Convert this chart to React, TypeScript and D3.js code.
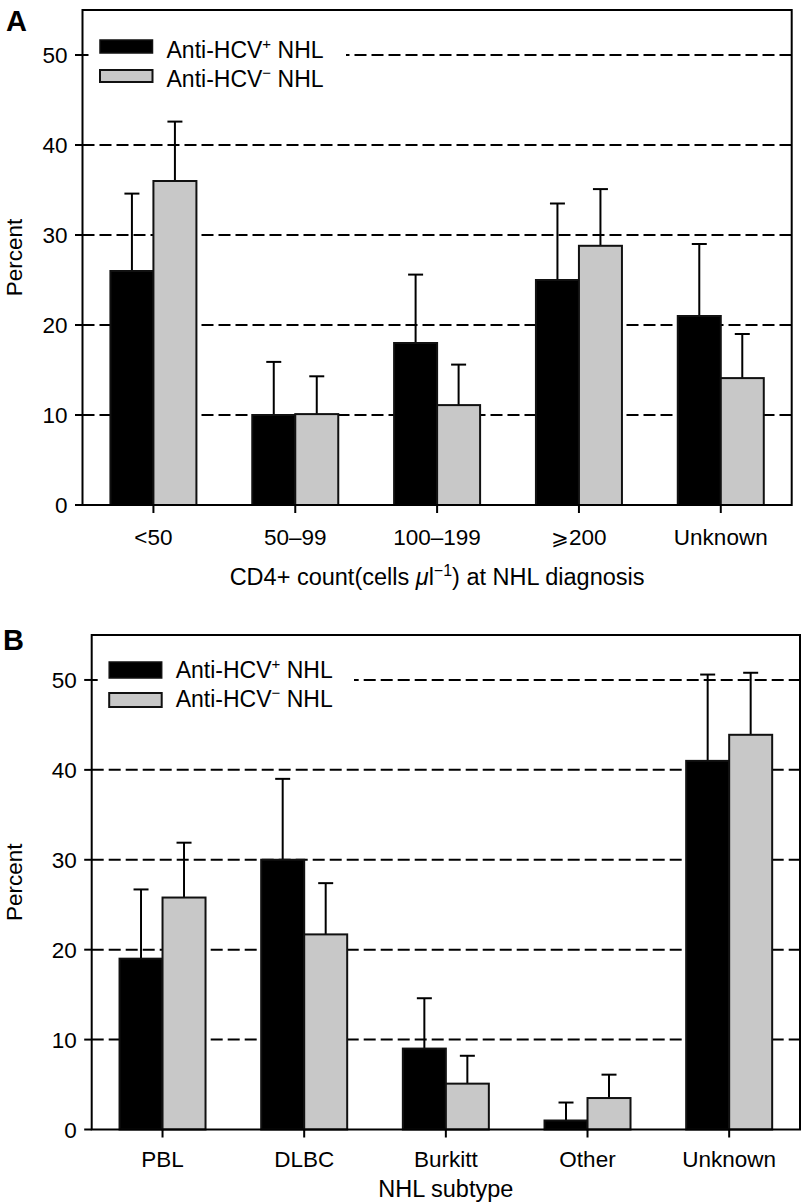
import React from "react";
import * as d3 from "d3";

const seriesKeys = ["pos", "neg"];
const cd4Categories = ["<50", "50–99", "100–199", "⩾200", "Unknown"];
const cd4Pos = [26, 10, 18, 25, 21];
const cd4PosErr = [34.6, 15.9, 25.6, 33.5, 29];
const cd4Neg = [36, 10.1, 11.1, 28.8, 14.1];
const cd4NegErr = [42.6, 14.3, 15.6, 35.1, 19];

const subtypeCategories = ["PBL", "DLBC", "Burkitt", "Other", "Unknown"];
const subPos = [19, 30, 9, 1, 41];
const subPosErr = [26.7, 39, 14.6, 3, 50.6];
const subNeg = [25.8, 21.7, 5.1, 3.5, 43.9];
const subNegErr = [31.9, 27.4, 8.2, 6.1, 50.8];

const yTicks = [0, 10, 20, 30, 40, 50];
const gridTicks = [10, 20, 30, 40, 50];

const FONT = "'Liberation Sans', Arial, Helvetica, sans-serif";
const GREY = "#c8c8c8";

type PanelProps = {
  letter: string;
  letterX: number;
  letterY: number;
  left: number;
  top: number;
  right: number;
  bottom: number;
  categories: string[];
  pos: number[];
  posErr: number[];
  neg: number[];
  negErr: number[];
  labelBaseline: number;
  titleBaseline: number;
  title: React.ReactNode;
  leg: { r1: number; h1: number; r2: number; h2: number; t1: number; t2: number; bgRight: number };
};

function Panel(p: PanelProps) {
  const x = d3.scaleBand<string>().domain(p.categories).range([p.left, p.right]).padding(0);
  const y = d3.scaleLinear().domain([0, 55]).range([p.bottom, p.top]);
  const barW = 43;
  const xs = d3.scaleBand<string>().domain(seriesKeys).range([-barW, barW]).padding(0);
  const capW = 15;
  const data = p.categories.map((c, i) => ({
    c,
    vals: [
      { k: "pos", v: p.pos[i], e: p.posErr[i] },
      { k: "neg", v: p.neg[i], e: p.negErr[i] },
    ],
  }));
  const center = (c: string) => (x(c) as number) + x.bandwidth() / 2;
  const midY = (p.top + p.bottom) / 2;
  return (
    <g fontFamily={FONT}>
      <text x={p.letterX} y={p.letterY} fontSize={29} fontWeight="bold" fill="#000">
        {p.letter}
      </text>
      {gridTicks.map((t) => (
        <line
          key={t}
          x1={p.left}
          x2={p.right}
          y1={y(t)}
          y2={y(t)}
          stroke="#000"
          strokeWidth={2}
          strokeDasharray="12,5"
        />
      ))}
      <rect
        x={p.left + 6}
        y={p.top + 22}
        width={p.leg.bgRight - p.left - 6}
        height={62}
        fill="#fff"
      />
      {data.map((d) => (
        <g key={d.c}>
          {d.vals.map((s) => {
            const bx = center(d.c) + (xs(s.k) as number);
            const bw = xs.bandwidth();
            const cx = bx + bw / 2;
            return (
              <g key={s.k}>
                <line x1={cx} x2={cx} y1={y(s.v)} y2={y(s.e)} stroke="#000" strokeWidth={2} />
                <line
                  x1={cx - capW / 2}
                  x2={cx + capW / 2}
                  y1={y(s.e)}
                  y2={y(s.e)}
                  stroke="#000"
                  strokeWidth={2}
                />
                <rect
                  x={bx}
                  y={y(s.v)}
                  width={bw}
                  height={y(0) - y(s.v)}
                  fill={s.k === "pos" ? "#000" : GREY}
                  stroke="#111"
                  strokeWidth={2}
                />
              </g>
            );
          })}
        </g>
      ))}
      <rect
        x={p.left}
        y={p.top}
        width={p.right - p.left}
        height={p.bottom - p.top}
        fill="none"
        stroke="#000"
        strokeWidth={2}
      />
      {yTicks.map((t) => (
        <g key={t}>
          <line x1={p.left - 7.5} x2={p.left} y1={y(t)} y2={y(t)} stroke="#000" strokeWidth={2} />
          <text
            x={p.left - 15}
            y={y(t)}
            dy="0.36em"
            textAnchor="end"
            fontSize={22.5}
            fill="#000"
          >
            {t}
          </text>
        </g>
      ))}
      <text
        transform={`translate(${22},${midY}) rotate(-90)`}
        textAnchor="middle"
        fontSize={22.5}
        fill="#000"
      >
        Percent
      </text>
      {p.categories.map((c) => (
        <g key={c}>
          <line
            x1={center(c)}
            x2={center(c)}
            y1={p.bottom}
            y2={p.bottom + 8}
            stroke="#000"
            strokeWidth={2}
          />
          <text
            x={center(c)}
            y={p.labelBaseline}
            textAnchor="middle"
            fontSize={22.5}
            fill="#000"
          >
            {c.startsWith("⩾") ? (
              <>
                <tspan fontFamily="'DejaVu Sans'" fontSize={21}>⩾</tspan>
                <tspan fontFamily={FONT}>{c.slice(1)}</tspan>
              </>
            ) : (
              c
            )}
          </text>
        </g>
      ))}
      <text
        x={(p.left + p.right) / 2}
        y={p.titleBaseline}
        textAnchor="middle"
        fontSize={23.5}
        fill="#000"
      >
        {p.title}
      </text>
      <rect
        x={p.left + 17.5}
        y={p.top + p.leg.r1}
        width={52.5}
        height={p.leg.h1}
        fill="#000"
        stroke="#111"
        strokeWidth={1.5}
      />
      <rect
        x={p.left + 17.5}
        y={p.top + p.leg.r2}
        width={52.5}
        height={p.leg.h2}
        fill={GREY}
        stroke="#111"
        strokeWidth={2}
      />
      <text x={p.left + 84} y={p.top + p.leg.t1} fontSize={23} fill="#000">
        Anti-HCV
        <tspan fontSize={15} dy={-9}>+</tspan>
        <tspan dy={9}> NHL</tspan>
      </text>
      <text x={p.left + 84} y={p.top + p.leg.t2} fontSize={23} fill="#000">
        Anti-HCV
        <tspan fontSize={15} dy={-9}>−</tspan>
        <tspan dy={9}> NHL</tspan>
      </text>
    </g>
  );
}

export default function App() {
  return (
    <svg
      width={802}
      height={1204}
      style={{ position: "absolute", left: 0, top: 0, background: "#fff" }}
    >
      <rect x={0} y={0} width={802} height={1204} fill="#fff" />
      <Panel
        letter="A"
        letterX={6}
        letterY={31}
        left={82.5}
        top={10}
        right={791.7}
        bottom={505}
        categories={cd4Categories}
        pos={cd4Pos}
        posErr={cd4PosErr}
        neg={cd4Neg}
        negErr={cd4NegErr}
        labelBaseline={545}
        titleBaseline={585}
        title={
          <>
            CD4+ count(cells <tspan fontStyle="italic">μ</tspan>l
            <tspan fontSize={16} dy={-9}>−1</tspan>
            <tspan dy={9}>) at NHL diagnosis</tspan>
          </>
        }
        leg={{ r1: 30, h1: 13, r2: 60, h2: 12, t1: 48, t2: 77, bgRight: 346 }}
      />
      <Panel
        letter="B"
        letterX={3}
        letterY={650}
        left={91.7}
        top={635}
        right={800}
        bottom={1129.5}
        categories={subtypeCategories}
        pos={subPos}
        posErr={subPosErr}
        neg={subNeg}
        negErr={subNegErr}
        labelBaseline={1167}
        titleBaseline={1197}
        title={<>NHL subtype</>}
        leg={{ r1: 27, h1: 16, r2: 58, h2: 14, t1: 43, t2: 72, bgRight: 354 }}
      />
    </svg>
  );
}
